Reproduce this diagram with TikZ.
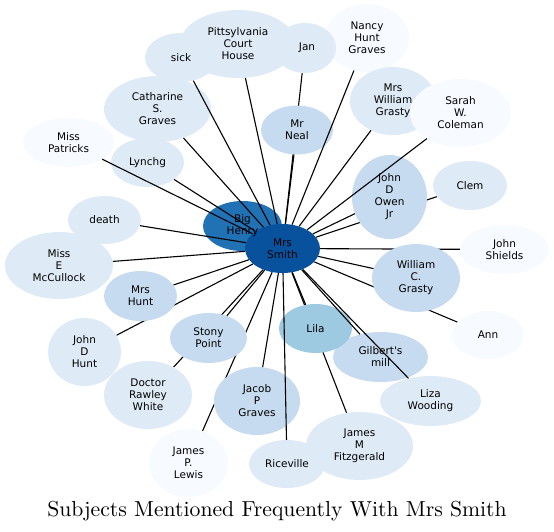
\documentclass[tikz,border=0pt]{standalone}
\usepackage{fontspec}
\newfontfamily\dv{DejaVu Sans}
\newfontfamily\tf{lmroman10-regular.otf}
\usetikzlibrary{shapes.geometric}
\definecolor{c1}{HTML}{F7FBFF}
\definecolor{c2}{HTML}{DEEBF7}
\definecolor{c3}{HTML}{C6DBEF}
\definecolor{c4}{HTML}{9ECAE1}
\definecolor{c6}{HTML}{2171B5}
\definecolor{c7}{HTML}{08519C}
\pgfdeclarelayer{back}
\pgfdeclarelayer{edgeback}
\pgfdeclarelayer{front}
\pgfdeclarelayer{labels}
\pgfsetlayers{back,edgeback,main,front,labels}
\begin{document}
\begin{tikzpicture}[x=1pt,y=-1pt,
  bub/.style n args={3}{ellipse, inner sep=0pt, align=center, text=black,
    font=\dv\fontsize{10.5}{12}\selectfont,
    minimum width=#1pt, minimum height=#2pt, fill=#3},
  lab/.style={inner sep=0pt, align=center, text=black,
    font=\dv\fontsize{10.5}{12}\selectfont},
  ed/.style={line width=1.1pt, black}]
\useasboundingbox (0,0) rectangle (554,532);
% nodes lying underneath others
\begin{pgfonlayer}{back}
\node[bub={84}{68}{c1}] (nancy) at (367,38) {Nancy\\Hunt\\Graves};
\node[bub={62}{50}{c2}] (dan) at (305,48) {};
\node[bub={72}{49}{c2}] (sick) at (181,57.5) {};
\node[bub={91}{49}{c1}] (patricks) at (68.5,142.5) {Miss\\Patricks};
\node[bub={86}{68}{c2}] (mwg) at (393,101) {Mrs\\William\\Grasty};
\node[bub={79}{50}{c6}] (henry) at (242.5,226) {};
\node[bub={95}{50}{c3}] (gilbert) at (380.5,357) {Gilbert's\\mill};
\end{pgfonlayer}
% main nodes
\node[bub={116}{68}{c2}] (pitts) at (238,44) {Pittsylvania\\Court\\House};
\node[bub={107}{66}{c2}] (catharine) at (157.5,109) {Catharine\\S.\\Graves};
\node[bub={73}{49}{c2}] (lynchg) at (147.5,162.5) {Lynchg};
\node[bub={72}{49}{c3}] (neal) at (297,130) {Mr\\Neal};
\node[bub={101}{68}{c1}] (sarah) at (460.5,113) {Sarah\\W.\\Coleman};
\node[bub={75}{84}{c3}] (owen) at (389.5,197) {John\\D\\Owen\\Jr};
\node[bub={74}{49}{c2}] (clem) at (470,185.5) {Clem};
\node[bub={89}{49}{c1}] (shields) at (504.5,249.5) {John\\Shields};
\node[bub={88}{68}{c3}] (wcg) at (416,278) {William\\C.\\Grasty};
\node[bub={72}{48}{c1}] (ann) at (488,335) {Ann};
\node[bub={73}{49}{c4}] (lila) at (315.5,328.5) {Lila};
\node[bub={101}{50}{c2}] (liza) at (430.5,401) {Liza\\Wooding};
\node[bub={76}{48}{c2}] (rice) at (287,464) {Riceville};
\node[bub={107}{68}{c2}] (jmf) at (359.5,446) {James\\M\\Fitzgerald};
\node[bub={86}{68}{c3}] (jacob) at (257,401) {Jacob\\P\\Graves};
\node[bub={79}{68}{c1}] (jpl) at (188.5,463) {James\\P.\\Lewis};
\node[bub={88}{68}{c2}] (doctor) at (148,395) {Doctor\\Rawley\\White};
\node[bub={77}{50}{c3}] (stony) at (208.5,338) {Stony\\Point};
\node[bub={73}{68}{c2}] (jdh) at (84.5,352) {John\\D\\Hunt};
\node[bub={108}{67}{c2}] (mcc) at (59,265.5) {Miss\\E\\McCullock};
\node[bub={73}{50}{c3}] (mhunt) at (140.5,296) {Mrs\\Hunt};
\node[bub={73}{48}{c2}] (death) at (104.5,220) {death};
\node[bub={75}{49}{c7}] (smith) at (282.5,248.5) {};
% edges hidden under nodes
\begin{pgfonlayer}{edgeback}
\foreach \t in {dan,jdh,doctor,jpl,shields,ann,clem,jmf}
  \draw[ed] (smith) -- (\t);
\end{pgfonlayer}
% edges drawn over nodes
\begin{pgfonlayer}{front}
\foreach \t in {pitts,sick,nancy,neal,mwg,sarah,owen,wcg,gilbert,liza,lila,rice,jacob,stony,mhunt,mcc,death,lynchg,patricks,catharine}
  \draw[ed] (smith) -- (\t);
\end{pgfonlayer}
% labels lying on top of everything
\begin{pgfonlayer}{labels}
\node[lab] (dan-l) at (307,48) {Jan};
\node[lab] (sick-l) at (181,57.5) {sick};
\node[lab] (henry-l) at (242.5,226) {Big\\Henry};
\node[lab] (smith-l) at (282.5,248.5) {Mrs\\Smith};
\end{pgfonlayer}
\node[font=\tf\fontsize{21.7}{25}\selectfont, anchor=base] (title) at (277,516) {Subjects Mentioned Frequently With Mrs Smith};
\end{tikzpicture}
\end{document}
